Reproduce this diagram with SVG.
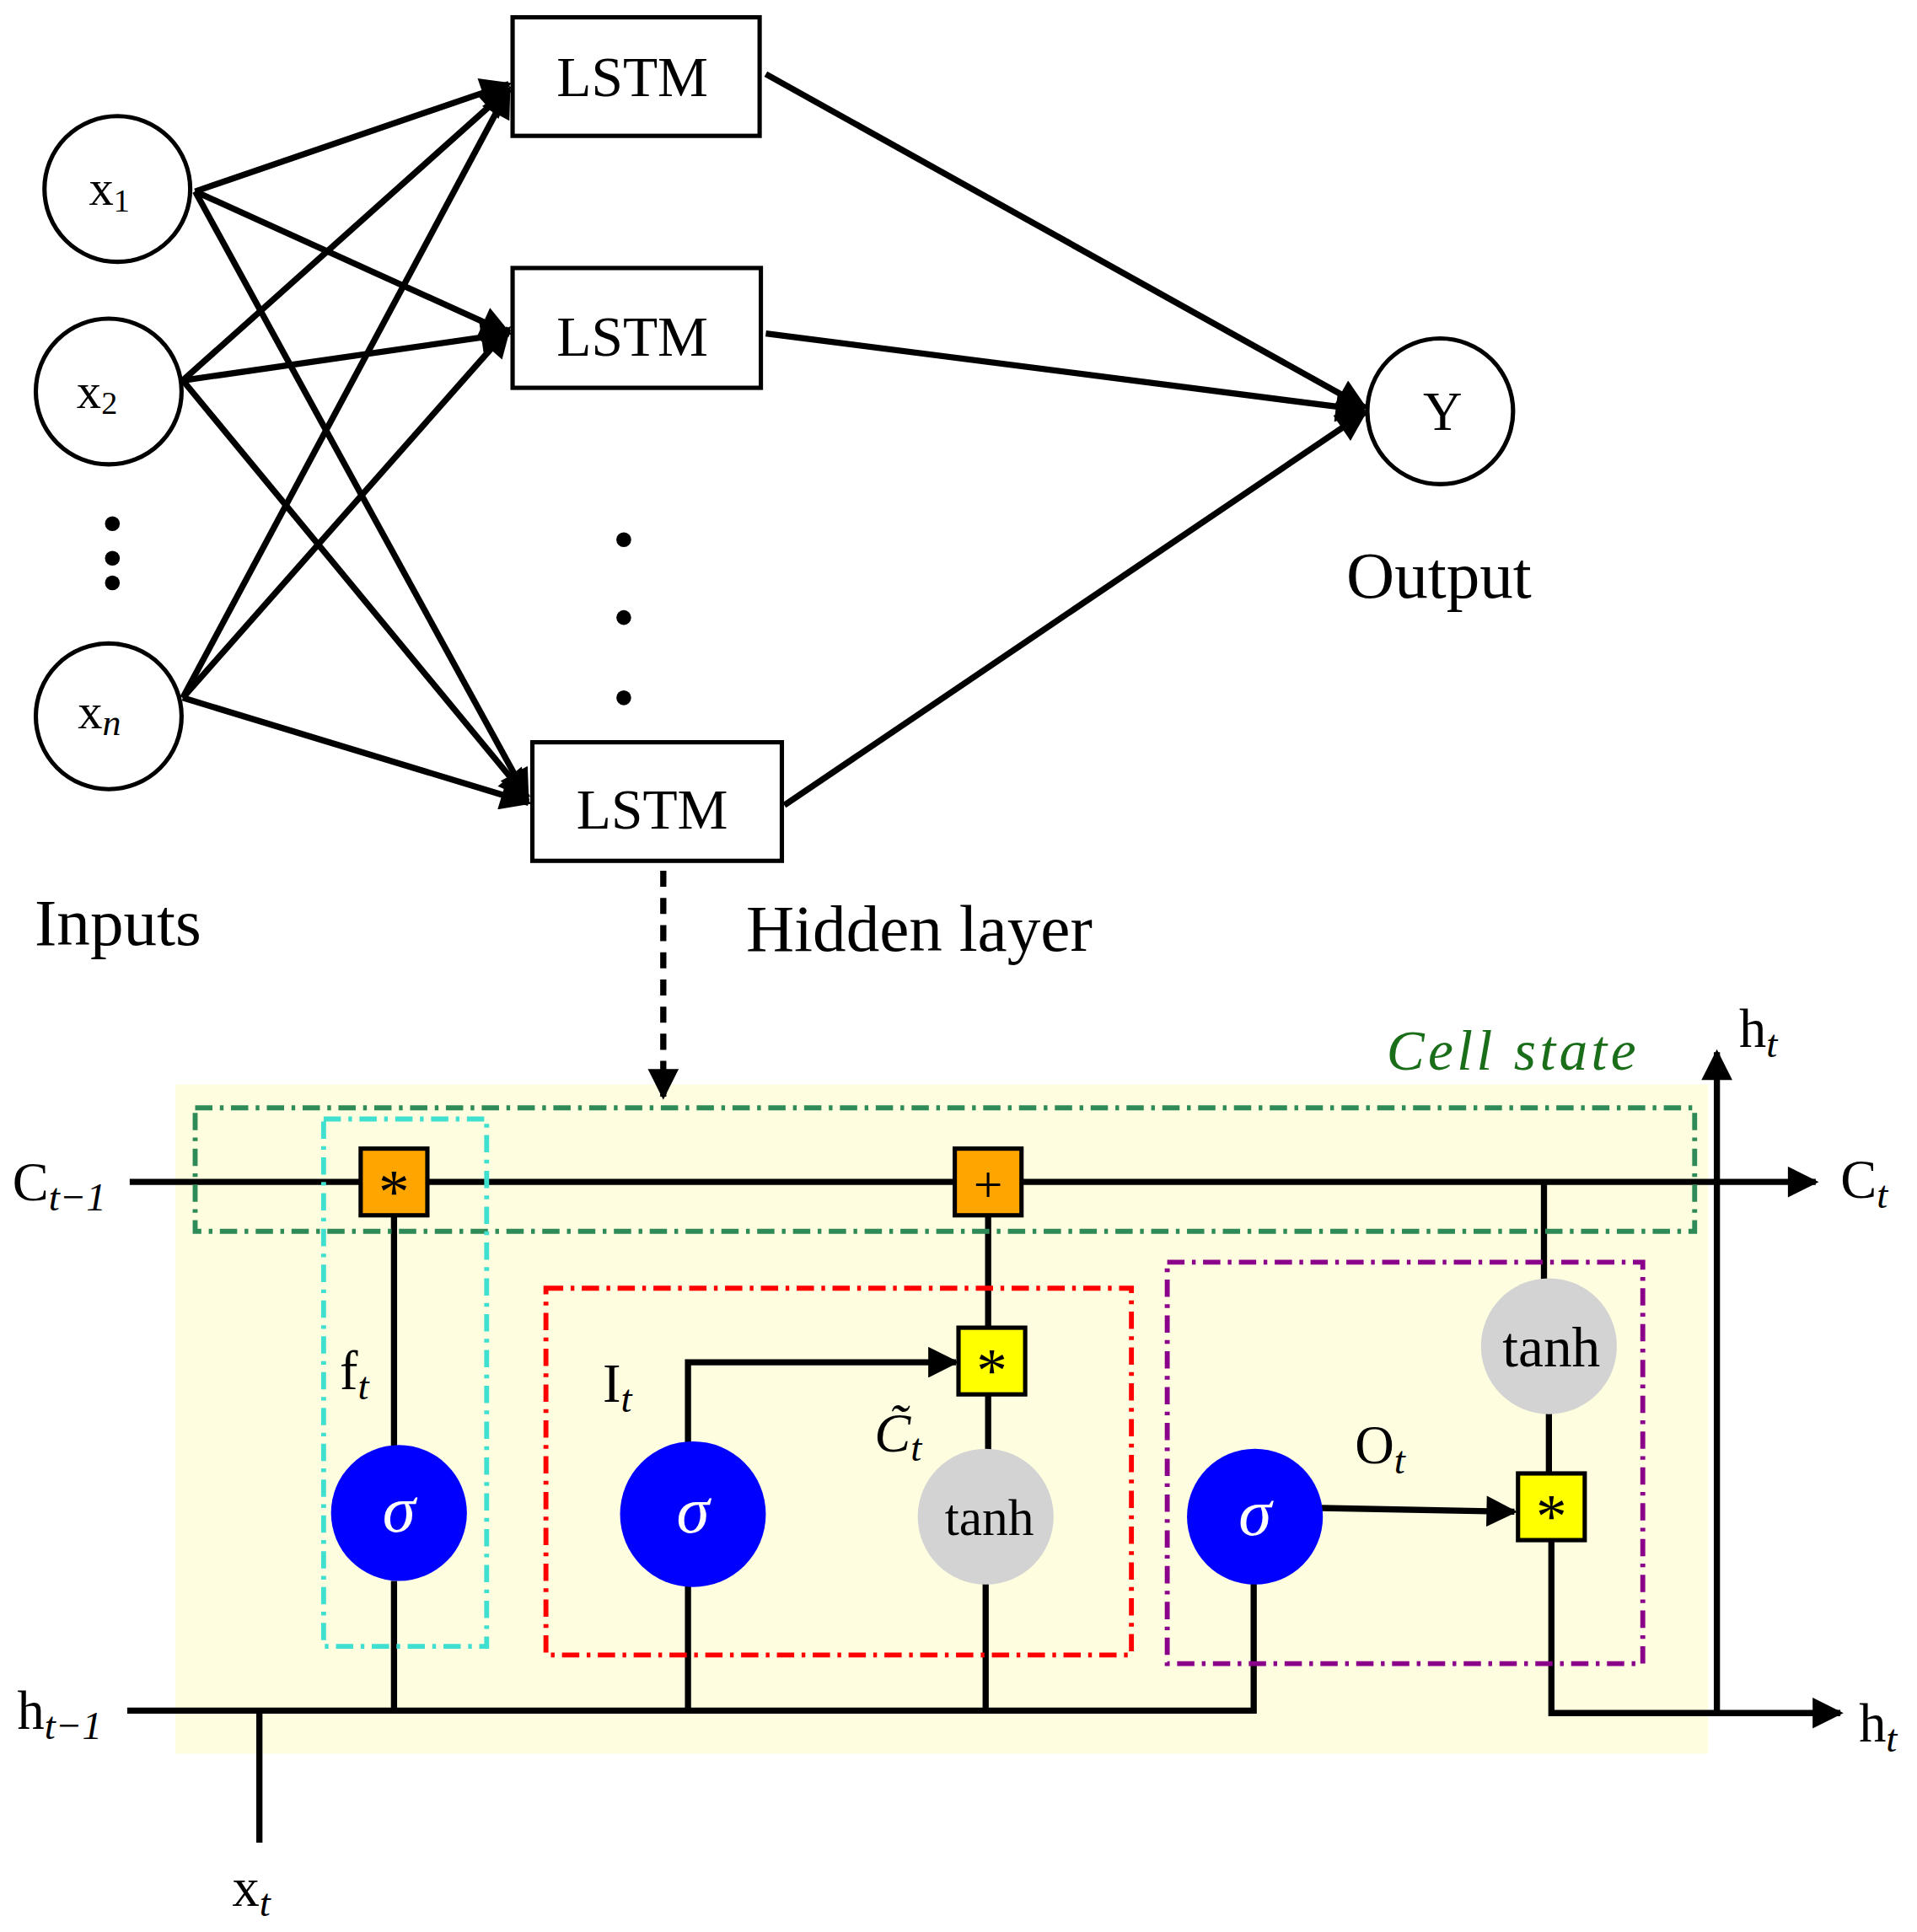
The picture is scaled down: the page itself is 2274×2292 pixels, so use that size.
<svg xmlns="http://www.w3.org/2000/svg" width="2274" height="2292" viewBox="0 0 2274 2292">
<style>
.ln{stroke:#000;stroke-width:5;fill:none}
.nd{fill:#fff;stroke:#000;stroke-width:3.5}
.t{font-family:"Liberation Serif","DejaVu Serif",serif;fill:#000}
.sub{font-style:italic}
.dd{fill:none;stroke-width:4;stroke-dasharray:14 6 3 6}
.sq{stroke:#000;stroke-width:3.5}
</style>
<defs>
<marker id="ah" viewBox="0 0 10 10" refX="9" refY="5" markerWidth="5.5" markerHeight="5" markerUnits="strokeWidth" orient="auto"><path d="M0,0 L10,5 L0,10 Z" fill="#000"/></marker>
</defs>
<rect width="2274" height="2292" fill="#fff"/>
<g transform="scale(1.4652)">
<rect x="142" y="878" width="1241" height="542" fill="#fefde0"/>
<g id="connectors">
<line class="ln" x1="158" y1="155" x2="412" y2="68" marker-end="url(#ah)"/>
<line class="ln" x1="158" y1="155" x2="412" y2="270" marker-end="url(#ah)"/>
<line class="ln" x1="158" y1="155" x2="427" y2="646" marker-end="url(#ah)"/>
<line class="ln" x1="148" y1="308" x2="412" y2="72" marker-end="url(#ah)"/>
<line class="ln" x1="148" y1="308" x2="412" y2="270" marker-end="url(#ah)"/>
<line class="ln" x1="148" y1="308" x2="427" y2="646" marker-end="url(#ah)"/>
<line class="ln" x1="148" y1="565" x2="412" y2="72" marker-end="url(#ah)"/>
<line class="ln" x1="148" y1="565" x2="412" y2="266" marker-end="url(#ah)"/>
<line class="ln" x1="148" y1="565" x2="428" y2="650" marker-end="url(#ah)"/>
<line class="ln" x1="620" y1="60" x2="1105" y2="330" marker-end="url(#ah)"/>
<line class="ln" x1="620" y1="270" x2="1104" y2="332" marker-end="url(#ah)"/>
<line class="ln" x1="635" y1="652" x2="1105" y2="334" marker-end="url(#ah)"/>
<line class="ln" x1="537" y1="705" x2="537" y2="888" stroke-dasharray="13 9" marker-end="url(#ah)"/>
<line class="ln" x1="105" y1="957" x2="1470" y2="957" marker-end="url(#ah)"/>
<line class="ln" x1="319" y1="984" x2="319" y2="1172"/>
<line class="ln" x1="319" y1="1280" x2="319" y2="1385"/>
<polyline class="ln" points="557,1172 557,1103 774,1103" marker-end="url(#ah)"/>
<line class="ln" x1="557" y1="1280" x2="557" y2="1385"/>
<line class="ln" x1="800" y1="984" x2="800" y2="1075"/>
<line class="ln" x1="800" y1="1129" x2="800" y2="1175"/>
<line class="ln" x1="798" y1="1282" x2="798" y2="1385"/>
<polyline class="ln" points="103,1385 1015,1385 1015,1282"/>
<line class="ln" x1="210" y1="1385" x2="210" y2="1492"/>
<line class="ln" x1="1070" y1="1221" x2="1226" y2="1224" marker-end="url(#ah)"/>
<line class="ln" x1="1250" y1="957" x2="1250" y2="1036"/>
<line class="ln" x1="1254" y1="1144" x2="1254" y2="1193"/>
<polyline class="ln" points="1256,1247 1256,1387 1490,1387" marker-end="url(#ah)"/>
<line class="ln" x1="1390" y1="1387" x2="1390" y2="852" marker-end="url(#ah)"/>
</g>
<rect x="158" y="897" width="1214" height="100" class="dd" stroke="#2e8b57"/>
<rect x="262" y="906" width="132" height="427" class="dd" stroke="#40e0d0"/>
<rect x="442" y="1043" width="474" height="297" class="dd" stroke="#ff0000"/>
<rect x="945" y="1022" width="385" height="325" class="dd" stroke="#8b008b"/>
<g id="x1"><circle class="nd" cx="95" cy="153" r="59"/><text class="t" x="72" y="166" font-size="40">x<tspan font-size="26" dy="5">1</tspan></text></g>
<g id="x2"><circle class="nd" cx="88" cy="317" r="59"/><text class="t" x="62" y="330" font-size="40">x<tspan font-size="26" dy="5">2</tspan></text></g>
<g id="xn"><circle class="nd" cx="88" cy="580" r="59"/><text class="t" x="63" y="590" font-size="40">x<tspan class="sub" font-size="30" dy="5">n</tspan></text></g>
<g id="dots1" fill="#000"><circle cx="91" cy="424" r="6"/><circle cx="91" cy="452" r="6"/><circle cx="91" cy="472" r="6"/></g>
<g id="dots2" fill="#000"><circle cx="505" cy="437" r="6"/><circle cx="505" cy="500" r="6"/><circle cx="505" cy="565" r="6"/></g>
<g id="lstm1"><rect class="nd" x="415" y="14" width="200" height="96"/><text class="t" x="512" y="78" font-size="46" text-anchor="middle">LSTM</text></g>
<g id="lstm2"><rect class="nd" x="415" y="217" width="201" height="97"/><text class="t" x="512" y="288" font-size="46" text-anchor="middle">LSTM</text></g>
<g id="lstm3"><rect class="nd" x="431" y="601" width="202" height="96"/><text class="t" x="528" y="671" font-size="46" text-anchor="middle">LSTM</text></g>
<g id="y"><circle class="nd" cx="1166" cy="333" r="59"/><text class="t" x="1168" y="348" font-size="44" text-anchor="middle">Y</text></g>
<text class="t" x="1165" y="484" font-size="54" text-anchor="middle">Output</text>
<text class="t" x="28" y="765" font-size="54">Inputs</text>
<text class="t" x="604" y="770" font-size="54">Hidden layer</text>
<text class="t" x="1225" y="866" font-size="46" font-style="italic" text-anchor="middle" letter-spacing="3" style="fill:#1a6e1a">Cell state</text>
<g id="mul1"><rect class="sq" x="292" y="930" width="54" height="54" fill="#ffa500"/><text class="t" x="319" y="982" font-size="50" text-anchor="middle">*</text></g>
<g id="add"><rect class="sq" x="773" y="930" width="54" height="54" fill="#ffa500"/><text class="t" x="800" y="973" font-size="42" text-anchor="middle">+</text></g>
<g id="mul2"><rect class="sq" x="776" y="1075" width="54" height="54" fill="#ffff00"/><text class="t" x="803" y="1127" font-size="50" text-anchor="middle">*</text></g>
<g id="mul3"><rect class="sq" x="1229" y="1193" width="54" height="54" fill="#ffff00"/><text class="t" x="1256" y="1245" font-size="50" text-anchor="middle">*</text></g>
<g id="sig1"><circle cx="323" cy="1225" r="55" fill="#0000ff"/><text class="t" x="323" y="1240" font-size="54" font-style="italic" text-anchor="middle" style="fill:#fff">σ</text></g>
<g id="sig2"><circle cx="561" cy="1226" r="59" fill="#0000ff"/><text class="t" x="561" y="1241" font-size="54" font-style="italic" text-anchor="middle" style="fill:#fff">σ</text></g>
<g id="sig3"><circle cx="1016" cy="1228" r="55" fill="#0000ff"/><text class="t" x="1016" y="1243" font-size="54" font-style="italic" text-anchor="middle" style="fill:#fff">σ</text></g>
<g id="tanh1"><circle cx="798" cy="1228" r="55" fill="#d3d3d3"/><text class="t" x="801" y="1243" font-size="42" text-anchor="middle">tanh</text></g>
<g id="tanh2"><circle cx="1254" cy="1090" r="55" fill="#d3d3d3"/><text class="t" x="1256" y="1106" font-size="46" text-anchor="middle">tanh</text></g>
<text class="t" x="275" y="1125" font-size="44">f<tspan class="sub" font-size="32" dy="8">t</tspan></text>
<text class="t" x="488" y="1135" font-size="44">I<tspan class="sub" font-size="32" dy="8">t</tspan></text>
<text class="t" x="708" y="1175" font-size="44" font-style="italic">C&#x303;<tspan font-size="32" dy="8">t</tspan></text>
<text class="t" x="1097" y="1185" font-size="44">O<tspan class="sub" font-size="32" dy="8">t</tspan></text>
<text class="t" x="10" y="972" font-size="44">C<tspan class="sub" font-size="32" dy="8">t−1</tspan></text>
<text class="t" x="1490" y="970" font-size="44">C<tspan class="sub" font-size="32" dy="8">t</tspan></text>
<text class="t" x="14" y="1400" font-size="44">h<tspan class="sub" font-size="32" dy="8">t−1</tspan></text>
<text class="t" x="1505" y="1410" font-size="44">h<tspan class="sub" font-size="32" dy="8">t</tspan></text>
<text class="t" x="1408" y="848" font-size="44">h<tspan class="sub" font-size="32" dy="8">t</tspan></text>
<text class="t" x="188" y="1543" font-size="44">x<tspan class="sub" font-size="32" dy="8">t</tspan></text>
</g>
</svg>
